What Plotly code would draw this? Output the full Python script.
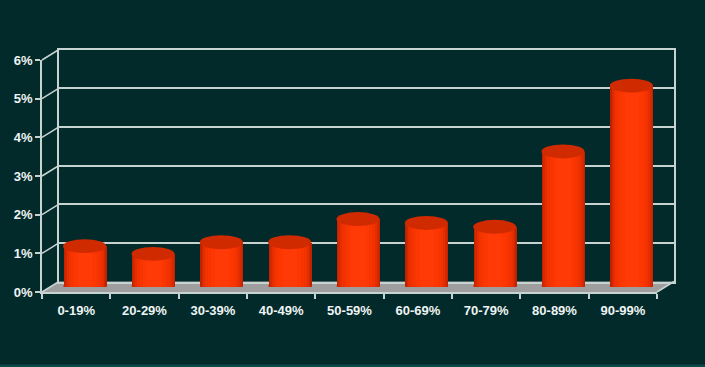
import plotly.graph_objects as go

# ---------------- data ----------------
categories = ["0-19%", "20-29%", "30-39%", "40-49%", "50-59%",
              "60-69%", "70-79%", "80-89%", "90-99%"]
values = [1.05, 0.85, 1.15, 1.15, 1.75, 1.65, 1.55, 3.5, 5.2]
y_ticks = [0, 1, 2, 3, 4, 5, 6]
y_tick_labels = ["0%", "1%", "2%", "3%", "4%", "5%", "6%"]

# ---------------- styling / geometry ----------------
W, H = 705, 367
BG = "#022a2b"
LINE = "#c6d3d1"
TICKFONT = dict(family="Liberation Sans, Arial, sans-serif", size=13,
                color="#eef4f3", weight="bold")

FX0, FX1 = 42, 657        # front frame left/right (px)
FY0, FY6 = 292, 60        # front frame pixel y for 0 and 6
DX, DY = 17, 10.5         # depth offset of back wall (px)
YMAX = 6

BAR_W = 0.63
ELL_H = 0.18


def px(x):
    return x / W


def py(y):
    return 1 - y / H


def fy(v):
    return FY0 + (FY6 - FY0) * v / YMAX


def dom(dx, dy):
    return ([px(FX0 + dx), px(FX1 + dx)], [py(FY0 - dy), py(FY6 - dy)])


back_x, back_y = dom(DX, DY)
front_x, front_y = dom(0, 0)
mid_x, mid_y = dom(DX / 2, DY / 2)

fig = go.Figure()

# invisible carriers so the back-wall and front-axis subplots are drawn
for xa, ya in (("x", "y"), ("x2", "y2")):
    fig.add_trace(go.Scatter(
        x=categories, y=values, mode="markers", marker=dict(opacity=0),
        xaxis=xa, yaxis=ya, showlegend=False, hoverinfo="skip",
    ))

# cylinder body: overlaid bars of decreasing width to fake shading
shades = [(1.00, "#bf2200"), (0.94, "#d42800"), (0.86, "#e52d00"),
          (0.76, "#f03100"), (0.64, "#f83400"), (0.50, "#fd3702"),
          (0.34, "#ff3a06")]
for f, c in shades:
    fig.add_trace(go.Bar(
        x=categories, y=values, width=[BAR_W * f] * len(values),
        marker=dict(color=c, line=dict(width=0)),
        xaxis="x3", yaxis="y3", showlegend=False, hoverinfo="skip",
    ))

shapes = []
# bottom strip of background
shapes.append(dict(type="rect", xref="paper", yref="paper", x0=0, x1=1,
                   y0=0, y1=py(H - 2.5), fillcolor="#0a4948",
                   line=dict(width=0), layer="below"))
# floor
floor_path = "M {} {} L {} {} L {} {} L {} {} Z".format(
    px(FX0), py(FY0), px(FX1), py(FY0),
    px(FX1 + DX), py(FY0 - DY), px(FX0 + DX), py(FY0 - DY))
shapes.append(dict(type="path", xref="paper", yref="paper", path=floor_path,
                   fillcolor="#9e9e9e", line=dict(width=0), layer="below"))
# left side-wall diagonals at each tick
for v in y_ticks:
    shapes.append(dict(type="line", xref="paper", yref="paper",
                       x0=px(FX0), y0=py(fy(v)), x1=px(FX0 + DX), y1=py(fy(v) - DY),
                       line=dict(color=LINE, width=1.5), layer="below"))
# right floor diagonal
shapes.append(dict(type="line", xref="paper", yref="paper",
                   x0=px(FX1), y0=py(FY0), x1=px(FX1 + DX), y1=py(FY0 - DY),
                   line=dict(color=LINE, width=1.5), layer="below"))

# cylinder bottoms and tops
for i, v in enumerate(values):
    shapes.append(dict(type="circle", xref="x3", yref="y3",
                       x0=i - BAR_W / 2, x1=i + BAR_W / 2,
                       y0=-ELL_H, y1=ELL_H,
                       fillcolor="#e02c00", line=dict(width=0), layer="below"))
    shapes.append(dict(type="circle", xref="x3", yref="y3",
                       x0=i - BAR_W / 2, x1=i + BAR_W / 2,
                       y0=v - ELL_H, y1=v + ELL_H,
                       fillcolor="#d02a00", line=dict(width=0), layer="above"))

hidden = dict(showgrid=False, zeroline=False, showticklabels=False, ticks="")

fig.update_layout(
    width=W, height=H,
    margin=dict(l=0, r=0, t=0, b=0, autoexpand=False),
    paper_bgcolor=BG, plot_bgcolor="rgba(0,0,0,0)",
    barmode="overlay", bargap=0,
    showlegend=False,
    shapes=shapes,
    # back wall
    xaxis=dict(domain=back_x, anchor="y", type="category", automargin=False,
               categoryarray=categories, range=[-0.5, len(categories) - 0.5],
               showline=True, mirror=True, linecolor=LINE, linewidth=1.5,
               **hidden),
    yaxis=dict(domain=back_y, anchor="x", range=[0, YMAX], automargin=False,
               tickvals=y_ticks, showgrid=True, gridcolor=LINE, gridwidth=1.5,
               showline=True, mirror=True, linecolor=LINE, linewidth=1.5,
               zeroline=False, showticklabels=False, ticks=""),
    # front axes
    xaxis2=dict(domain=front_x, anchor="y2", type="category", automargin=False,
                categoryarray=categories, range=[-0.5, len(categories) - 0.5],
                showline=True, linecolor=LINE, linewidth=1.5,
                ticks="outside", tickson="boundaries", ticklen=5,
                tickcolor=LINE, tickwidth=1.5, showgrid=False,
                tickfont=TICKFONT, ticklabelstandoff=6),
    yaxis2=dict(domain=front_y, anchor="x2", range=[0, YMAX], automargin=False,
                tickvals=y_ticks, ticktext=y_tick_labels,
                ticks="outside", ticklen=5, tickcolor=LINE, tickwidth=1.5,
                showline=True, linecolor=LINE, linewidth=1.5,
                showgrid=False, zeroline=False, tickfont=TICKFONT),
    # bars (mid depth)
    xaxis3=dict(domain=mid_x, anchor="y3", type="category", automargin=False,
                categoryarray=categories, range=[-0.5, len(categories) - 0.5],
                visible=False),
    yaxis3=dict(domain=mid_y, anchor="x3", range=[0, YMAX], visible=False,
                automargin=False),
)

fig.write_html(
    "out.html",
    config={"displayModeBar": False},
    post_script="document.body.style.margin='0';document.body.style.overflow='hidden';",
)
